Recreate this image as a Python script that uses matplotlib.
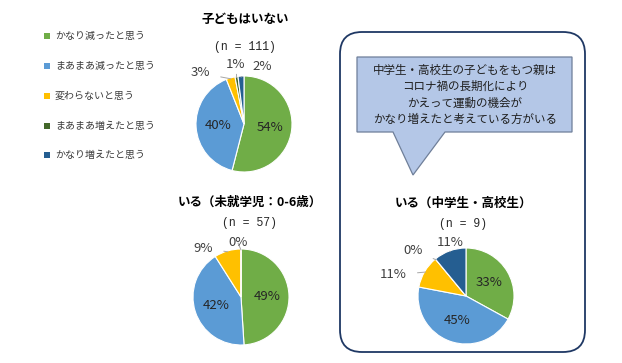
import numpy as np
import matplotlib
matplotlib.use("Agg")
import matplotlib.pyplot as plt
from matplotlib.patches import FancyBboxPatch, Polygon

plt.rcParams['font.family'] = ['Noto Sans CJK JP', 'DejaVu Sans']

# response categories and colours
categories = ['かなり減ったと思う', 'まあまあ減ったと思う', '変わらないと思う',
              'まあまあ増えたと思う', 'かなり増えたと思う']
colors = ['#70AD47', '#5B9BD5', '#FFC000', '#43682B', '#255E91']

# percentages per group
no_children = [54, 40, 3, 1, 2]
preschool = [49, 42, 9, 0, 0]
junior_high = [33, 45, 11, 0, 11]

titles = ['子どもはいない', 'いる（未就学児：0-6歳）', 'いる（中学生・高校生）']
n_labels = ['(n = 111)', '(n = 57)', '(n = 9)']

W, H = 622, 363
fig = plt.figure(figsize=(W / 100, H / 100), dpi=100)
fig.patch.set_facecolor('white')

# overlay axes in pixel coordinates (y from top)
ov = fig.add_axes([0, 0, 1, 1], zorder=0)
ov.set_xlim(0, W)
ov.set_ylim(H, 0)
ov.axis('off')

# legend
leg_y = [36, 66, 96, 126, 155]
for c, lab, y in zip(colors, categories, leg_y):
    ov.scatter([47], [y], marker='s', s=16, color=c, linewidths=0)
    ov.text(55, y, lab, fontsize=7.2, color='#3A3A3A', va='center', ha='left')

# rounded frame around the third pie
frame = FancyBboxPatch((340, 32), 245, 320,
                       boxstyle='round,pad=0,rounding_size=22',
                       facecolor='none', edgecolor='#1F3864', linewidth=1.3)
ov.add_patch(frame)

# callout
callout = Polygon([(357, 57), (572, 57), (572, 132), (445, 132), (413, 175),
                   (393, 132), (357, 132)], closed=True,
                  facecolor='#B4C7E7', edgecolor='#6F7F99', linewidth=0.9)
ov.add_patch(callout)
callout_lines = ['中学生・高校生の子どもをもつ親は', 'コロナ禍の長期化により',
                 'かえって運動の機会が', 'かなり増えたと考えている方がいる']
for i, line in enumerate(callout_lines):
    ov.text(465, 70 + i * 16.5, line, fontsize=8.3, color='#1F1F1F',
            ha='center', va='center')

# pies: centre (px from left, px from top), radius in px
pies = [
    (no_children, (244, 124), (245, 20), (245, 47),
     {2: (200, 73), 3: (236, 65), 4: (262, 67)}),
    (preschool, (241, 297), (250, 202), (250, 223),
     {2: (203, 248), 3: (238, 243)}),
    (junior_high, (466, 296), (463, 203), (463, 224),
     {2: (393, 275), 3: (413, 250), 4: (450, 242)}),
]
R = 48

for (vals, (cx, cy), tpos, npos, outside), title, nlab in zip(pies, titles, n_labels):
    ax = fig.add_axes([(cx - R) / W, (H - cy - R) / H, 2 * R / W, 2 * R / H], zorder=1)
    wedges, _ = ax.pie(vals, colors=colors, startangle=90, counterclock=False,
                       wedgeprops=dict(edgecolor='white', linewidth=0.8))
    ax.set_xlim(-1, 1)
    ax.set_ylim(-1, 1)
    ax.set_aspect('auto')
    ax.axis('off')
    for i, (w, v) in enumerate(zip(wedges, vals)):
        ang = np.deg2rad((w.theta1 + w.theta2) / 2)
        if i in outside:
            lx, ly = outside[i]
            ax.annotate(f'{v}%', xy=(np.cos(ang) * 0.98, np.sin(ang) * 0.98),
                        xytext=(lx, H - ly), textcoords='figure pixels',
                        fontsize=9.5, color='#404040', ha='center', va='center',
                        arrowprops=dict(arrowstyle='-', color='#A6A6A6', lw=0.7,
                                        shrinkA=6, shrinkB=0),
                        annotation_clip=False)
        elif v > 0:
            ax.text(np.cos(ang) * 0.55, np.sin(ang) * 0.55, f'{v}%',
                    fontsize=9.5, color='#262626', ha='center', va='center')
    ov.text(tpos[0], tpos[1], title, fontsize=9, fontweight='bold',
            color='#000000', ha='center', va='center')
    ov.text(npos[0], npos[1], nlab, fontsize=8.3, color='#262626',
            family=['Liberation Mono', 'DejaVu Sans Mono'],
            ha='center', va='center')

fig.savefig('out.png', dpi=100, facecolor='white')
